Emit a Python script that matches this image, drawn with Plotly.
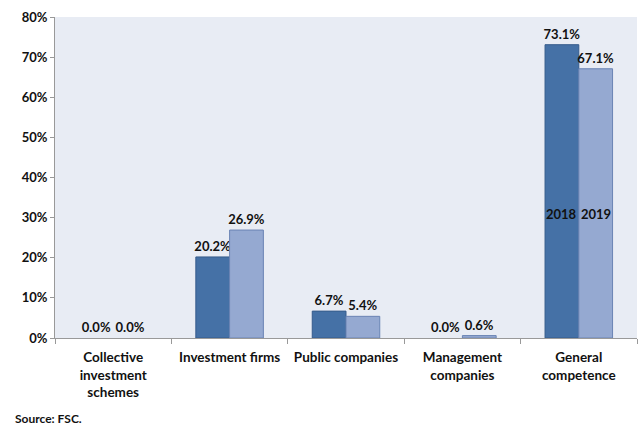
import plotly.graph_objects as go

categories = ["Collective<br>investment<br>schemes", "Investment firms", "Public companies",
              "Management<br>companies", "General<br>competence"]
values_2018 = [0.0, 20.2, 6.7, 0.0, 73.1]
values_2019 = [0.0, 26.9, 5.4, 0.6, 67.1]
y_ticks = [0, 10, 20, 30, 40, 50, 60, 70, 80]
y_tick_labels = [f"{v}%" for v in y_ticks]

FONT = "Lato, 'Open Sans', Arial, sans-serif"
TXT = "#111111"


def outline(vals):
    # no outline on empty bars so they stay invisible
    return [1 if v > 0 else 0 for v in vals]


fig = go.Figure()
fig.add_trace(go.Bar(
    x=categories, y=values_2018, name="2018",
    marker=dict(color="#4571A6", line=dict(color="#365C8C", width=outline(values_2018))),
    text=[f"<b>{v:.1f}%</b>" for v in values_2018], textposition="outside",
    constraintext="none",
    textfont=dict(family=FONT, size=13, color=TXT), cliponaxis=False,
))
fig.add_trace(go.Bar(
    x=categories, y=values_2019, name="2019",
    marker=dict(color="#95A9D1", line=dict(color="#6A84B4", width=outline(values_2019))),
    text=[f"<b>{v:.1f}%</b>" for v in values_2019], textposition="outside",
    constraintext="none",
    textfont=dict(family=FONT, size=13, color=TXT), cliponaxis=False,
))

# series names written inside the last pair of bars
for name, shift in (("2018", -17), ("2019", 17)):
    fig.add_annotation(x=categories[-1], y=31, text=f"<b>{name}</b>", showarrow=False,
                       xshift=shift, font=dict(family=FONT, size=13, color=TXT))

fig.add_annotation(xref="paper", yref="paper", x=-0.072, y=-0.25, xanchor="left", yanchor="middle",
                   text="<b>Source: FSC.</b>", showarrow=False,
                   font=dict(family=FONT, size=12, color=TXT))

fig.update_layout(
    width=639, height=427,
    margin=dict(l=55, r=2, t=17, b=89),
    paper_bgcolor="white", plot_bgcolor="#E8ECF4",
    barmode="group", bargap=0.42, bargroupgap=0,
    showlegend=False,
    font=dict(family=FONT, size=13, color=TXT),
)
fig.update_xaxes(
    tickson="boundaries", ticks="outside", ticklen=5, tickcolor="#999999",
    showline=True, linecolor="#999999", linewidth=1, showgrid=False,
    ticklabelstandoff=7,
    tickfont=dict(family=FONT, size=13.5, color=TXT), tickprefix="<b>", ticksuffix="</b>",
)
fig.update_yaxes(
    range=[0, 80], tickvals=y_ticks, ticktext=[f"<b>{t}</b>" for t in y_tick_labels],
    ticks="outside", ticklen=4, tickcolor="#999999",
    showline=True, linecolor="#999999", linewidth=1, showgrid=False, zeroline=False,
    tickfont=dict(family=FONT, size=13, color=TXT),
)

fig.write_html("out.html")
